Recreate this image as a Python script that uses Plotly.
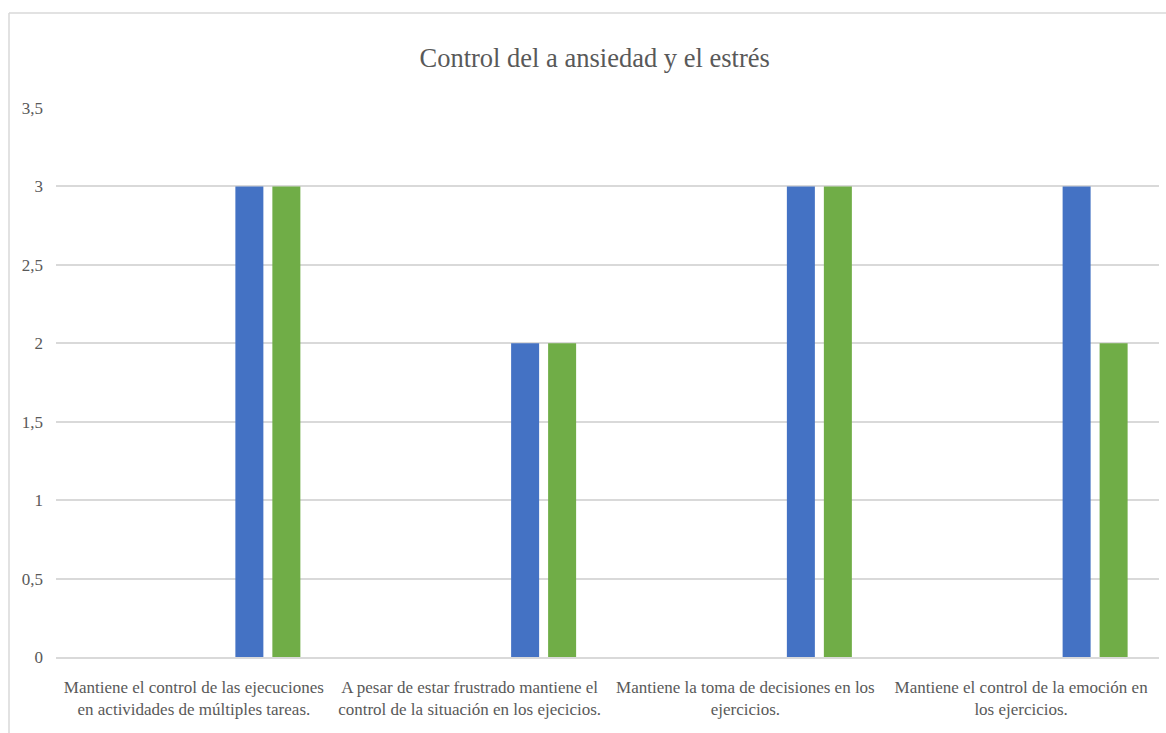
import plotly.graph_objects as go

categorias = [
    "Mantiene el control de las ejecuciones<br>en actividades de múltiples tareas.",
    "A pesar de estar frustrado mantiene el<br>control de la situación en los ejecicios.",
    "Mantiene la toma de decisiones en los<br>ejercicios.",
    "Mantiene el control de la emoción en<br>los ejercicios.",
]

# Six clustered series; the first four are empty in this sheet
serie_1 = [0, 0, 0, 0]
serie_2 = [0, 0, 0, 0]
serie_3 = [0, 0, 0, 0]
serie_4 = [0, 0, 0, 0]
serie_5 = [3, 2, 3, 3]
serie_6 = [3, 2, 3, 2]

series = [serie_1, serie_2, serie_3, serie_4, serie_5, serie_6]
colores = ["#4472C4", "#ED7D31", "#A5A5A5", "#FFC000", "#4472C4", "#70AD47"]

ticks_y = [0, 0.5, 1, 1.5, 2, 2.5, 3, 3.5]
etiquetas_y = ["0", "0,5", "1", "1,5", "2", "2,5", "3", "3,5"]

fig = go.Figure()
for i, (vals, col) in enumerate(zip(series, colores)):
    fig.add_trace(go.Bar(
        x=categorias, y=vals, name=f"Serie {i + 1}",
        marker=dict(color=col, line=dict(width=0)),
        showlegend=False,
    ))

font_family = "Liberation Serif"
text_color = "#595959"

fig.update_layout(
    width=1166, height=733,
    margin=dict(l=56, r=7, t=108, b=76),
    paper_bgcolor="white", plot_bgcolor="white",
    barmode="group", bargap=0.195, bargroupgap=0.243,
    title=dict(
        text="Control del a ansiedad y el estrés",
        x=0.51, xref="container", xanchor="center",
        y=1 - 58 / 733, yref="container", yanchor="middle",
        font=dict(family=font_family, size=26.5, color=text_color),
    ),
    xaxis=dict(
        showgrid=False, showline=True, linecolor="#D9D9D9", linewidth=1.5,
        ticks="", ticklabelstandoff=14,
        tickfont=dict(family=font_family, size=17, color=text_color),
    ),
    yaxis=dict(
        range=[0, 3.5], tickvals=ticks_y, ticktext=etiquetas_y,
        showgrid=True, gridcolor="#D9D9D9", gridwidth=1.5,
        zeroline=False, showline=False, ticks="",
        ticklabelstandoff=12,
        tickfont=dict(family=font_family, size=17, color=text_color),
    ),
    shapes=[
        dict(type="line", xref="paper", yref="paper",
             x0=(9 - 56) / 1103, x1=(1166 - 56) / 1103,
             y0=(657 - 13) / 549, y1=(657 - 13) / 549,
             line=dict(color="#D9D9D9", width=1.5)),
        dict(type="line", xref="paper", yref="paper",
             x0=(9 - 56) / 1103, x1=(9 - 56) / 1103,
             y0=(657 - 13) / 549, y1=(657 - 740) / 549,
             line=dict(color="#D9D9D9", width=1.5)),
    ],
)

fig.write_html("out.html")
